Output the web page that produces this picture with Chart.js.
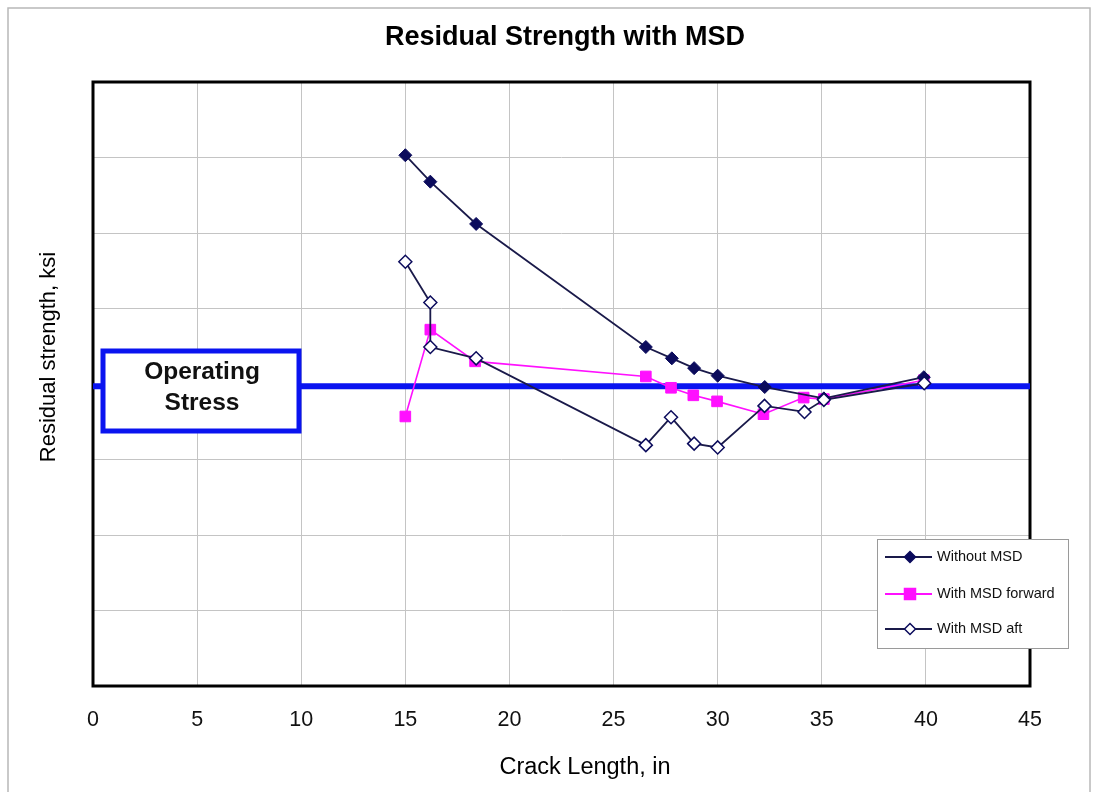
<!DOCTYPE html>
<html>
<head>
<meta charset="utf-8">
<script src="https://cdn.jsdelivr.net/npm/chart.js@4/dist/chart.umd.min.js"></script>
<style>
html,body{margin:0;padding:0;background:#fff;}
#wrap{width:1098px;height:792px;position:relative;}
</style>
</head>
<body>
<div id="wrap"><canvas id="c" width="1098" height="792"></canvas></div>
<script>
// ---- data ----
const chartTitle = "Residual Strength with MSD";
const xTitle = "Crack Length, in";
const yTitle = "Residual strength, ksi";
const xTicks = [0, 5, 10, 15, 20, 25, 30, 35, 40, 45];

const withoutX = [15.0, 16.2, 18.4, 26.55, 27.8, 28.87, 30.0, 32.26, 35.1, 39.9];
const withoutY = [70.3, 66.8, 61.2, 44.9, 43.4, 42.1, 41.1, 39.6, 38.1, 40.9];

const fwdX = [15.0, 16.2, 18.35, 26.55, 27.76, 28.83, 29.97, 32.2, 34.13, 35.1, 39.9];
const fwdY = [35.7, 47.2, 43.0, 41.0, 39.5, 38.5, 37.7, 36.0, 38.2, 38.0, 40.5];

const aftX = [15.0, 16.2, 16.2, 18.4, 26.55, 27.76, 28.87, 30.0, 32.25, 34.17, 35.1, 39.92];
const aftY = [56.2, 50.8, 44.9, 43.4, 31.9, 35.6, 32.1, 31.6, 37.1, 36.3, 37.9, 40.1];

const stressLabel = ["Operating", "Stress"];
const stressX = [0, 45];
const stressY = [39.7, 39.7];

const seriesNames = ["Without MSD", "With MSD forward", "With MSD aft"];

const pts = (xs, ys) => xs.map((x, i) => ({x: x, y: ys[i]}));

const FONT = "'Liberation Sans', Arial, sans-serif";

const decor = {
  id: 'decor',
  beforeDatasetsDraw(chart) {
    const {ctx, chartArea: a} = chart;
    ctx.save();
    ctx.strokeStyle = '#000';
    ctx.lineWidth = 3;
    ctx.strokeRect(a.left, a.top, a.right - a.left, a.bottom - a.top);
    ctx.restore();
  },
  afterDraw(chart) {
    const {ctx, chartArea: a} = chart;
    ctx.save();
    // outer frame
    ctx.strokeStyle = '#b8b8b8';
    ctx.lineWidth = 1.5;
    ctx.strokeRect(8, 8, 1082, 800);
    // title
    ctx.fillStyle = '#000';
    ctx.font = "bold 27px " + FONT;
    ctx.textAlign = 'center';
    ctx.textBaseline = 'middle';
    ctx.fillText(chartTitle, 565, 38);
    // x title
    ctx.font = "23.5px " + FONT;
    ctx.fillText(xTitle, 585, 768);
    // y title
    ctx.save();
    ctx.translate(49, 357);
    ctx.rotate(-Math.PI / 2);
    ctx.font = "22px " + FONT;
    ctx.fillText(yTitle, 0, 0);
    ctx.restore();

    // Operating stress box
    const bx = 103, by = 351, bw = 196, bh = 80;
    ctx.fillStyle = '#fff';
    ctx.fillRect(bx, by, bw, bh);
    ctx.strokeStyle = '#0a14f0';
    ctx.lineWidth = 5;
    ctx.strokeRect(bx, by, bw, bh);
    ctx.fillStyle = '#111';
    ctx.font = "bold 24.5px " + FONT;
    ctx.fillText(stressLabel[0], 202, 372);
    ctx.fillText(stressLabel[1], 202, 403);

    // legend
    const lx = 877, ly = 539, lw = 191, lh = 109;
    ctx.fillStyle = '#fff';
    ctx.fillRect(lx, ly, lw, lh);
    ctx.strokeStyle = '#9a9a9a';
    ctx.lineWidth = 1;
    ctx.strokeRect(lx + 0.5, ly + 0.5, lw, lh);
    const rows = [557, 594, 629];
    ctx.textAlign = 'left';
    ctx.font = "14.5px " + FONT;
    [0, 1, 2].forEach(i => {
      const ds = chart.data.datasets[i];
      const y = rows[i];
      ctx.strokeStyle = ds.borderColor;
      ctx.lineWidth = 2;
      ctx.beginPath();
      ctx.moveTo(885, y);
      ctx.lineTo(932, y);
      ctx.stroke();
      ctx.fillStyle = ds.pointBackgroundColor;
      ctx.strokeStyle = ds.pointBorderColor;
      ctx.lineWidth = 1.5;
      ctx.beginPath();
      if (ds.pointStyle === 'rect') {
        ctx.rect(910 - 5.5, y - 5.5, 11, 11);
      } else {
        ctx.moveTo(910, y - 5.5); ctx.lineTo(915.5, y); ctx.lineTo(910, y + 5.5); ctx.lineTo(904.5, y); ctx.closePath();
      }
      ctx.fill();
      ctx.stroke();
      ctx.fillStyle = '#111';
      ctx.fillText(seriesNames[i], 937, y);
    });
    ctx.restore();
  }
};

new Chart(document.getElementById('c'), {
  type: 'line',
  data: {
    datasets: [
      {
        label: seriesNames[0], data: pts(withoutX, withoutY),
        borderColor: '#1a1a4a', borderWidth: 1.8,
        pointStyle: 'rectRot', pointRadius: 6.5, pointHoverRadius: 6.5,
        pointBackgroundColor: '#0b0b5c', pointBorderColor: '#0b0b5c', pointBorderWidth: 1,
        order: 1
      },
      {
        label: seriesNames[1], data: pts(fwdX, fwdY),
        borderColor: '#ff10ff', borderWidth: 1.6,
        pointStyle: 'rect', pointRadius: 7.5, pointHoverRadius: 7.5,
        pointBackgroundColor: '#ff10ff', pointBorderColor: '#ff10ff', pointBorderWidth: 1,
        order: 2
      },
      {
        label: seriesNames[2], data: pts(aftX, aftY),
        borderColor: '#1a1a4a', borderWidth: 1.8,
        pointStyle: 'rectRot', pointRadius: 6.5, pointHoverRadius: 6.5,
        pointBackgroundColor: '#ffffff', pointBorderColor: '#0b0b5c', pointBorderWidth: 1.5,
        order: 0
      },
      {
        label: 'Operating Stress', data: pts(stressX, stressY),
        borderColor: '#0a14f0', borderWidth: 6, pointRadius: 0,
        order: 5
      }
    ]
  },
  options: {
    responsive: false,
    animation: false,
    layout: {padding: {top: 82, right: 68, left: 0, bottom: 0}},
    plugins: {legend: {display: false}, title: {display: false}, tooltip: {enabled: false}},
    scales: {
      x: {
        type: 'linear', min: 0, max: 45,
        afterBuildTicks: s => { s.ticks = xTicks.map(v => ({value: v})); },
        afterFit: s => { s.height = 106; },
        grid: {color: '#c4c4c4', lineWidth: 1, drawTicks: false},
        border: {display: false},
        ticks: {padding: 21, color: '#111', font: {family: FONT, size: 21.5}, maxRotation: 0}
      },
      y: {
        min: 0, max: 80,
        ticks: {stepSize: 10, display: false},
        afterFit: s => { s.width = 93; },
        grid: {color: '#c4c4c4', lineWidth: 1, drawTicks: false},
        border: {display: false}
      }
    }
  },
  plugins: [decor]
});
</script>
</body>
</html>
